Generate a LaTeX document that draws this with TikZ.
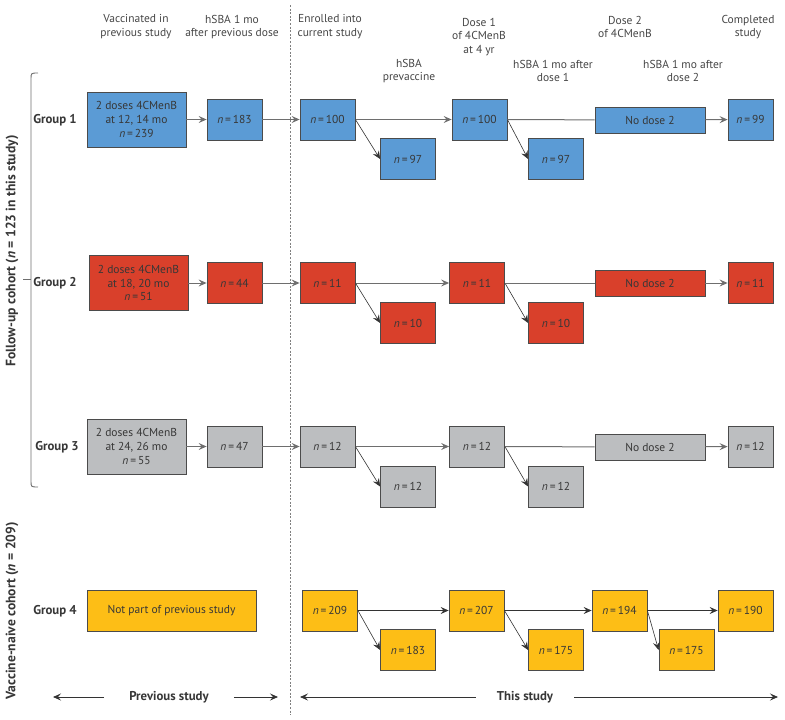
\documentclass[tikz,border=0pt]{standalone}
\usepackage{fontspec}
\setmainfont{PT Sans}
\usetikzlibrary{arrows.meta}
\definecolor{cblue}{RGB}{91,155,213}
\definecolor{cred}{RGB}{217,64,43}
\definecolor{cgray}{RGB}{188,190,192}
\definecolor{cyel}{RGB}{253,190,22}
\definecolor{edgec}{RGB}{75,75,75}
\definecolor{txtc}{RGB}{55,55,55}
\definecolor{hdrc}{RGB}{70,70,70}
\definecolor{linec}{RGB}{110,110,110}
\newcommand{\nn}[1]{\textit{n}\,=\,#1}
\begin{document}
\begin{tikzpicture}[x=1pt,y=-1pt,
  font=\fontsize{11.5}{13.8}\selectfont,
  bx/.style={draw=edgec, line width=0.8pt, fill=#1, text=txtc, inner sep=0pt, align=center},
  sm/.style={minimum width=55, minimum height=41},
  nar/.style={minimum width=45, minimum height=41},
  big/.style={minimum width=99, minimum height=55},
  nod/.style={minimum width=110, minimum height=26},
  hdr/.style={text=hdrc, align=center, inner sep=0pt},
  grp/.style={text=txtc, font=\fontsize{12.8}{14}\selectfont\bfseries, inner sep=0pt},
  rot/.style={text=txtc, font=\fontsize{13.6}{15}\selectfont\bfseries, inner sep=0pt, rotate=90},
  tip/.style={-{Stealth[length=8pt,width=7pt,inset=3pt]}},
  hconn/.style={draw=linec, line width=1pt},
  dconn/.style={draw=black!80, line width=0.6pt},
]
\useasboundingbox (0,0) rectangle (785,720);

% headers
\node[hdr] (h1) at (136,27) {Vaccinated in\\previous study};
\node[hdr] (h2) at (232,27) {hSBA 1 mo\\after previous dose};
\node[hdr] (h3) at (330,27) {Enrolled into\\current study};
\node[hdr] (h4) at (409,71) {hSBA\\prevaccine};
\node[hdr] (h5) at (479,37) {Dose 1\\of 4CMenB\\at 4 yr};
\node[hdr] (h6) at (553,71) {hSBA 1 mo after\\dose 1};
\node[hdr] (h7) at (625,27) {Dose 2\\of 4CMenB};
\node[hdr] (h8) at (683,71) {hSBA 1 mo after\\dose 2};
\node[hdr] (h9) at (748,27) {Completed\\study};

% divider
\coordinate (dvt) at (290,5);
\coordinate (dvb) at (290,715);
\draw[gray, line width=1pt, dash pattern=on 2pt off 1.6pt] (dvt) -- (dvb);

% group labels
\node[grp] (g1) at (55,120) {Group 1};
\node[grp] (g2) at (55,283) {Group 2};
\node[grp] (g3) at (57,447) {Group 3};
\node[grp] (g4) at (55,611) {Group 4};

% cohort labels and bracket
\node[rot] (fu) at (12,251) {Follow-up cohort (\textit{n} = 123 in this study)};
\node[rot] (vn) at (12,611) {Vaccine-naive cohort (\textit{n} = 209)};
\coordinate (bt) at (38,73);
\coordinate (bb) at (38,487);
\draw[linec, line width=0.9pt] (bt) .. controls (31,73) .. (31,79) -- (31,481) .. controls (31,487) .. (bb);
\coordinate (bm1) at (31,279);
\coordinate (bm2) at (23,279);
\draw[linec, line width=0.9pt] (bm1) -- (bm2);

% ---- Group 1
\node[bx=cblue, big] (a1) at (136.5,119.5) {2 doses 4CMenB\\at 12, 14 mo\\\nn{239}};
\node[bx=cblue, sm] (b1) at (234.5,119.5) {\nn{183}};
\node[bx=cblue, sm] (c1) at (327.5,119.5) {\nn{100}};
\node[bx=cblue, sm] (d1) at (408,159) {\nn{97}};
\node[bx=cblue, sm] (e1) at (479.5,119.5) {\nn{100}};
\node[bx=cblue, sm] (f1) at (556,159) {\nn{97}};
\node[bx=cblue, nod] (n1) at (650,120) {No dose 2};
\node[bx=cblue, nar] (z1) at (750.5,119.5) {\nn{99}};
\draw[hconn, tip] (a1) -- (b1);
\draw[hconn, tip] (b1) -- (c1);
\draw[hconn, tip] (c1) -- (e1);
\draw[dconn, tip] (c1.east) -- (d1.west);
\draw[dconn, tip] (e1.east) -- (f1.west);
\draw[hconn] (e1) -- (n1);
\draw[hconn, tip] (n1) -- (z1);

% ---- Group 2
\node[bx=cred, big] (a2) at (138.5,283) {2 doses 4CMenB\\at 18, 20 mo\\\nn{51}};
\node[bx=cred, sm] (b2) at (234.5,283) {\nn{44}};
\node[bx=cred, sm] (c2) at (327.5,283) {\nn{11}};
\node[bx=cred, sm] (d2) at (408,323) {\nn{10}};
\node[bx=cred, sm] (e2) at (477,283) {\nn{11}};
\node[bx=cred, sm] (f2) at (556,323) {\nn{10}};
\node[bx=cred, nod] (n2) at (650,283) {No dose 2};
\node[bx=cred, nar] (z2) at (750.5,283) {\nn{11}};
\draw[hconn, tip] (a2) -- (b2);
\draw[hconn, tip] (b2) -- (c2);
\draw[hconn, tip] (c2) -- (e2);
\draw[dconn, tip] (c2.east) -- (d2.west);
\draw[dconn, tip] (e2.east) -- (f2.west);
\draw[hconn] (e2) -- (n2);
\draw[hconn, tip] (n2) -- (z2);

% ---- Group 3
\node[bx=cgray, big] (a3) at (136.5,446.5) {2 doses 4CMenB\\at 24, 26 mo\\\nn{55}};
\node[bx=cgray, sm] (b3) at (234.5,446.5) {\nn{47}};
\node[bx=cgray, sm] (c3) at (327.5,446.5) {\nn{12}};
\node[bx=cgray, sm] (d3) at (408,486.5) {\nn{12}};
\node[bx=cgray, sm] (e3) at (477,446.5) {\nn{12}};
\node[bx=cgray, sm] (f3) at (556,486.5) {\nn{12}};
\node[bx=cgray, nod] (n3) at (650,447) {No dose 2};
\node[bx=cgray, nar] (z3) at (750.5,446.5) {\nn{12}};
\draw[hconn, tip] (a3) -- (b3);
\draw[hconn, tip] (b3) -- (c3);
\draw[hconn, tip] (c3) -- (e3);
\draw[dconn, tip] (c3.east) -- (d3.west);
\draw[dconn, tip] (e3.east) -- (f3.west);
\draw[hconn] (e3) -- (n3);
\draw[hconn, tip] (n3) -- (z3);

% ---- Group 4
\node[bx=cyel, minimum width=169, minimum height=41] (a4) at (171.5,610.5) {Not part of previous study};
\node[bx=cyel, sm] (c4) at (330,610.5) {\nn{209}};
\node[bx=cyel, sm] (d4) at (408,650) {\nn{183}};
\node[bx=cyel, sm] (e4) at (476.5,610.5) {\nn{207}};
\node[bx=cyel, sm] (f4) at (556,650) {\nn{175}};
\node[bx=cyel, sm] (g4b) at (619.5,610.5) {\nn{194}};
\node[bx=cyel, sm] (h4b) at (686.5,650) {\nn{175}};
\node[bx=cyel, sm] (z4) at (745.5,610.5) {\nn{190}};
\draw[dconn, tip] (c4) -- (e4);
\draw[dconn, tip] (e4) -- (g4b);
\draw[dconn, tip] (g4b) -- (z4);
\draw[dconn, tip] (c4.east) -- (d4.west);
\draw[dconn, tip] (e4.east) -- (f4.west);
\draw[dconn, tip] (g4b.east) -- (h4b.west);

% ---- bottom timeline
\node[grp, inner xsep=25pt, inner ysep=2pt] (ps) at (169,697) {Previous study};
\node[grp, inner xsep=21pt, inner ysep=2pt] (ts) at (525,697) {This study};
\coordinate (psl) at (53,697);
\coordinate (psr) at (278,697);
\coordinate (tsl) at (300,697);
\coordinate (tsr) at (778,697);
\draw[dconn, line width=0.8pt, tip] (ps) -- (psl);
\draw[dconn, line width=0.8pt, tip] (ps) -- (psr);
\draw[dconn, line width=0.8pt, tip] (ts) -- (tsl);
\draw[dconn, line width=0.8pt, tip] (ts) -- (tsr);
\end{tikzpicture}
\end{document}
